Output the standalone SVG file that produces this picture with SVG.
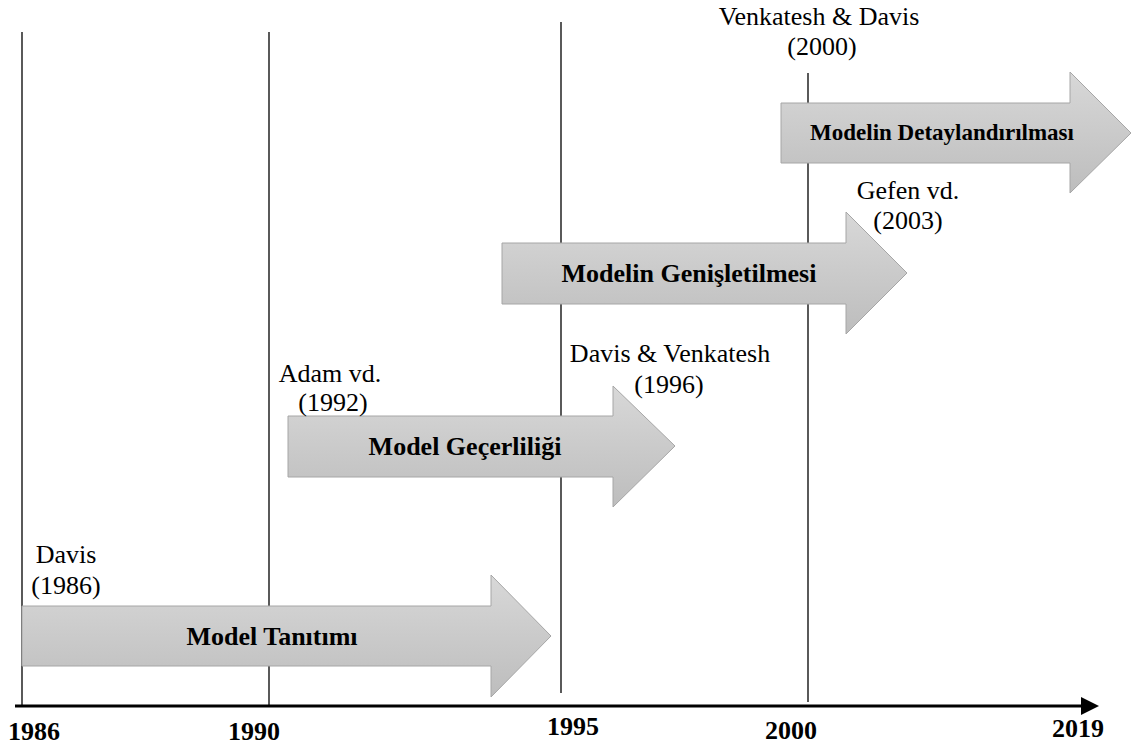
<svg xmlns="http://www.w3.org/2000/svg" width="1133" height="749" viewBox="0 0 1133 749">
<defs>
<linearGradient id="g" x1="0" y1="0" x2="0" y2="1">
<stop offset="0" stop-color="#d8d8d8"/>
<stop offset="1" stop-color="#bdbdbd"/>
</linearGradient>
<marker id="ah" markerWidth="6" markerHeight="6" refX="0" refY="3" orient="auto" markerUnits="strokeWidth">
<path d="M0,0 L6,3 L0,6 Z" fill="#000"/>
</marker>
<style>
.tick{stroke:#000;stroke-width:1.3;fill:none}
.arr{fill:url(#g);stroke:#a6a6a6;stroke-width:1}
text{font-family:"Liberation Serif","Times New Roman",serif;fill:#000}
.lab{font-size:26px;font-weight:normal;text-anchor:middle}
.bl{font-size:26px;font-weight:bold;text-anchor:middle}
.yr{font-size:26px;font-weight:bold}
</style>
</defs>
<rect width="1133" height="749" fill="#fff"/>
<g id="connectors">
<line class="tick" x1="22" y1="32" x2="22" y2="705"/>
<line class="tick" x1="269" y1="32" x2="269" y2="705"/>
<line class="tick" x1="561" y1="22" x2="561" y2="693"/>
<line class="tick" x1="808" y1="73" x2="808" y2="702"/>
<line x1="15" y1="706" x2="1081" y2="706" stroke="#000" stroke-width="3" marker-end="url(#ah)"/>
</g>
<g id="axis-labels">
<text class="yr" x="8" y="740">1986</text>
<text class="yr" x="228" y="740">1990</text>
<text class="yr" x="547" y="735">1995</text>
<text class="yr" x="765" y="739">2000</text>
<text class="yr" x="1052" y="737">2019</text>
</g>
<g id="node-tanitim">
<path class="arr" d="M22,606 H491 V575 L551,636 L491,697 V666 H22 Z"/>
<text class="bl" x="272" y="645">Model Tanıtımı</text>
</g>
<g id="node-gecerlilik">
<path class="arr" d="M288,416 H613 V386 L675,446 L613,507 V477 H288 Z"/>
<text class="bl" x="465" y="455">Model Geçerliliği</text>
</g>
<g id="node-genisletilme">
<path class="arr" d="M502,243 H846 V212 L907,273 L846,334 V304 H502 Z"/>
<text class="bl" x="689" y="282">Modelin Genişletilmesi</text>
</g>
<g id="node-detay">
<path class="arr" d="M781,103 H1070 V72 L1131,133 L1070,193 V163 H781 Z"/>
<text class="bl" x="942" y="140" style="font-size:23px">Modelin Detaylandırılması</text>
</g>
<g id="label-davis1986">
<text class="lab" x="66" y="563">Davis</text>
<text class="lab" x="66" y="594">(1986)</text>
</g>
<g id="label-adam1992">
<text class="lab" x="330" y="382">Adam vd.</text>
<text class="lab" x="333" y="411">(1992)</text>
</g>
<g id="label-davis1996">
<text class="lab" x="670" y="362">Davis &amp; Venkatesh</text>
<text class="lab" x="669" y="393">(1996)</text>
</g>
<g id="label-gefen2003">
<text class="lab" x="908" y="199">Gefen vd.</text>
<text class="lab" x="908" y="229">(2003)</text>
</g>
<g id="label-venkatesh2000">
<text class="lab" x="819" y="25">Venkatesh &amp; Davis</text>
<text class="lab" x="822" y="55">(2000)</text>
</g>
</svg>
